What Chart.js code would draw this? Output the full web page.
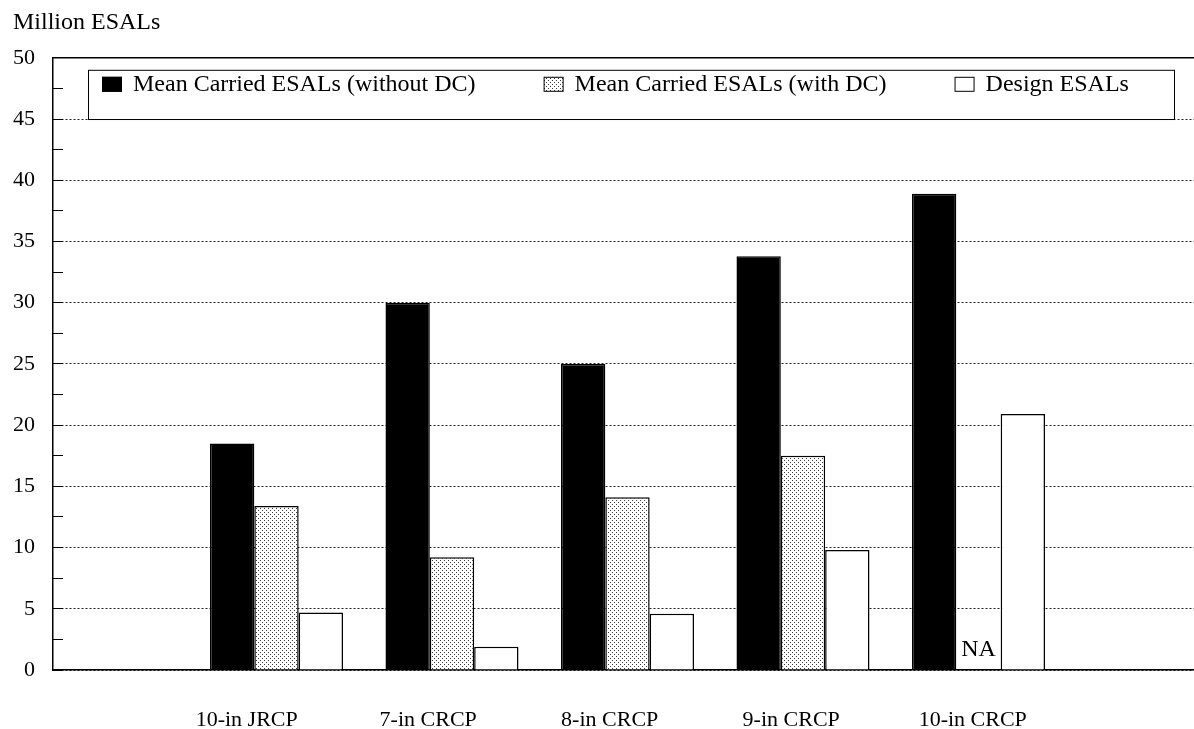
<!DOCTYPE html>
<html>
<head>
<meta charset="utf-8">
<script src="https://cdn.jsdelivr.net/npm/chart.js@4"></script>
<style>
  html, body { margin: 0; padding: 0; background: #fff; }
  #wrap { width: 1194px; height: 729px; }
</style>
</head>
<body>
<div id="wrap"><canvas id="myChart"></canvas></div>
<script>
// dati (milioni di ESAL)
const sections = ['10-in JRCP', '7-in CRCP', '8-in CRCP', '9-in CRCP', '10-in CRCP'];
const positions = [1, 2, 3, 4, 5];
const withoutDC = [18.5, 30.0, 25.0, 33.8, 38.9];
const withDC = [13.4, 9.2, 14.1, 17.5, null];
const design = [4.7, 1.9, 4.6, 9.8, 20.9];
const seriesNames = ['Mean Carried ESALs (without DC)', 'Mean Carried ESALs (with DC)', 'Design ESALs'];
const yMin = 0;
const yMax = 50;
const yStep = 2.5;
const yLabelStep = 5;

const FONT = '"Liberation Serif", "Times New Roman", serif';
Chart.defaults.font.family = FONT;
Chart.defaults.color = '#000';

const canvas = document.getElementById('myChart');
const ctx = canvas.getContext('2d');

// retino a puntini per la serie "with DC"
function dotPattern() {
    const c = document.createElement('canvas');
    c.width = 4;
    c.height = 4;
    const g = c.getContext('2d');
    g.fillStyle = '#fff';
    g.fillRect(0, 0, 4, 4);
    g.fillStyle = '#3a3a3a';
    g.fillRect(0, 0, 1, 1);
    g.fillRect(2, 2, 1, 1);
    return ctx.createPattern(c, 'repeat');
}

function points(values) {
    return positions.map((p, i) => ({ x: p, y: values[i] }));
}

// legenda dentro l'area del grafico, con cornice
const boxedLegend = {
    id: 'boxedLegend',
    afterDatasetsDraw(chart) {
        const c = chart.ctx;
        const area = chart.chartArea;
        const left = area.left + 35;
        const top = area.top + 12;
        const right = area.right - 20;
        const bottom = chart.scales.y.getPixelForValue(45);
        c.save();
        c.fillStyle = '#fff';
        c.fillRect(left, top, right - left, bottom - top);
        c.strokeStyle = '#000';
        c.lineWidth = 1;
        c.strokeRect(left + 0.5, top + 0.5, right - left, bottom - top);
        c.font = '24px ' + FONT;
        c.textBaseline = 'middle';
        c.textAlign = 'left';
        const cy = top + 15;
        let x = left + 14;
        chart.data.datasets.forEach(ds => {
            c.fillStyle = ds.backgroundColor;
            c.fillRect(x, cy - 8, 20, 15);
            c.strokeRect(x + 0.5, cy - 7.5, 19, 14);
            c.fillStyle = '#000';
            c.fillText(ds.label, x + 31, cy);
            x += 31 + c.measureText(ds.label).width + 68;
        });
        c.restore();
    }
};

// scritta NA dove manca il dato
const naLabel = {
    id: 'naLabel',
    afterDatasetsDraw(chart) {
        const c = chart.ctx;
        const meta = chart.getDatasetMeta(1);
        const base = chart.scales.y.getPixelForValue(0);
        c.save();
        c.font = '24px ' + FONT;
        c.fillStyle = '#000';
        c.textAlign = 'center';
        c.textBaseline = 'middle';
        withDC.forEach((v, i) => {
            if (v === null && meta.data[i]) {
                c.fillText('NA', meta.data[i].x, base - 20);
            }
        });
        c.restore();
    }
};

const onlyPositions = scale => {
    scale.ticks = positions.map(v => ({ value: v }));
};

new Chart(canvas, {
    type: 'bar',
    data: {
        datasets: [
            { label: seriesNames[0], data: points(withoutDC), backgroundColor: '#000' },
            { label: seriesNames[1], data: points(withDC), backgroundColor: dotPattern() },
            { label: seriesNames[2], data: points(design), backgroundColor: '#fff' }
        ]
    },
    options: {
        responsive: true,
        maintainAspectRatio: false,
        animation: false,
        events: [],
        layout: { padding: { left: 13, right: 0, top: 0, bottom: 0 } },
        datasets: {
            bar: {
                categoryPercentage: 0.758,
                barPercentage: 1,
                borderWidth: 1.5,
                borderColor: '#000'
            }
        },
        plugins: {
            legend: { display: false },
            tooltip: { enabled: false },
            title: {
                display: true,
                text: 'Million ESALs',
                align: 'start',
                color: '#000',
                font: { family: FONT, size: 24, weight: 'normal' },
                padding: { top: 8, bottom: 13 }
            }
        },
        scales: {
            x: {
                type: 'linear',
                position: 'top',
                min: -0.2735,
                max: 6.228,
                offset: false,
                afterBuildTicks: onlyPositions,
                grid: { display: false },
                ticks: { display: false },
                border: { display: true, color: '#000', width: 1.5 }
            },
            xl: {
                type: 'linear',
                axis: 'x',
                position: 'bottom',
                min: -0.067,
                max: 6.219,
                offset: false,
                afterBuildTicks: onlyPositions,
                afterFit: scale => { scale.height = 59; },
                grid: { display: false },
                border: { display: true, color: '#000', width: 1.5 },
                ticks: {
                    autoSkip: false,
                    maxRotation: 0,
                    padding: 29,
                    color: '#000',
                    font: { family: FONT, size: 22 },
                    callback: v => sections[positions.indexOf(v)] || ''
                }
            },
            y: {
                min: yMin,
                max: yMax,
                afterFit: scale => { scale.width = 40; },
                ticks: {
                    stepSize: yStep,
                    autoSkip: false,
                    padding: 28,
                    color: '#000',
                    font: { family: FONT, size: 22 },
                    callback: v => (v % yLabelStep === 0 ? v : '')
                },
                grid: {
                    color: c => (c.tick && c.tick.value % yLabelStep === 0 ? '#222' : 'rgba(0,0,0,0)'),
                    lineWidth: 1,
                    tickColor: '#000',
                    tickLength: -10,
                    tickWidth: 1,
                    tickBorderDash: []
                },
                border: { display: true, color: '#000', width: 1.5, dash: [2, 2] }
            }
        }
    },
    plugins: [boxedLegend, naLabel]
});
</script>
</body>
</html>
